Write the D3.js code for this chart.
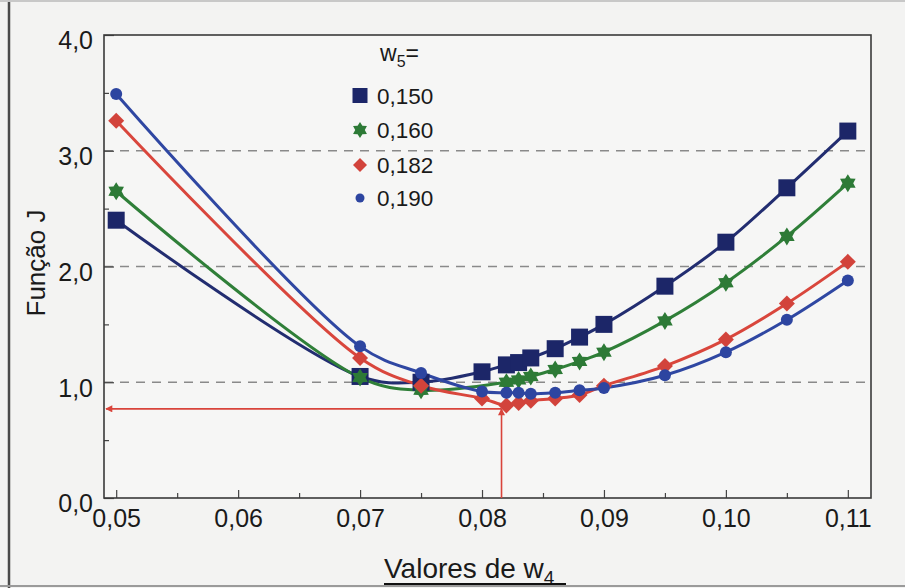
<!DOCTYPE html>
<html>
<head>
<meta charset="utf-8">
<script src="https://cdn.jsdelivr.net/npm/d3@7"></script>
<style>
  html, body { margin: 0; padding: 0; background: #f3f3f2; }
  svg { display: block; }
  text { font-family: Arial, "Liberation Sans", sans-serif; fill: #1a1a1a; }
</style>
</head>
<body>
<svg id="chart" width="905" height="588"></svg>
<script>
// Valores de w4 (abscissa) for every series
const w4 = [0.05, 0.07, 0.075, 0.08, 0.082, 0.083, 0.084, 0.086, 0.088, 0.09, 0.095, 0.10, 0.105, 0.11];

// Função J for each w5
const j150 = [2.40, 1.05, 1.00, 1.09, 1.15, 1.17, 1.21, 1.29, 1.39, 1.50, 1.83, 2.21, 2.68, 3.17];
const j160 = [2.65, 1.04, 0.93, null, 1.00, 1.02, 1.05, 1.11, 1.18, 1.26, 1.53, 1.86, 2.26, 2.72];
const j182 = [3.26, 1.21, 0.97, 0.86, 0.80, 0.82, 0.84, 0.86, 0.89, 0.97, 1.14, 1.37, 1.68, 2.04];
const j190 = [3.49, 1.31, 1.08, 0.92, 0.91, 0.91, 0.90, 0.91, 0.93, 0.95, 1.06, 1.26, 1.54, 1.88];

const seriesNames = ["0,150", "0,160", "0,182", "0,190"];

// Axis ticks
const xTicks = [0.05, 0.06, 0.07, 0.08, 0.09, 0.10, 0.11];
const xTickLabels = ["0,05", "0,06", "0,07", "0,08", "0,09", "0,10", "0,11"];
const xMinor = [0.055, 0.065, 0.075, 0.085, 0.095, 0.105];
const yTicks = [0, 1, 2, 3, 4];
const yTickLabels = ["0,0", "1,0", "2,0", "3,0", "4,0"];
const yMinor = [0.5, 1.5, 2.5, 3.5];
const gridValues = [1, 2, 3];

// Optimum marked with the red arrows
const optW4 = 0.0816;
const optJ = 0.77;

const svg = d3.select("#chart");

const pLeft = 104, pRight = 871, pTop = 35, pBottom = 498;
const x = d3.scaleLinear().domain([0.049, 0.1119]).range([pLeft, pRight]);
const y = d3.scaleLinear().domain([0, 4]).range([pBottom, pTop]);

// outer picture frame
svg.append("line").attr("x1", 9).attr("x2", 9).attr("y1", 0).attr("y2", 588)
  .attr("stroke", "#4a4a4a").attr("stroke-width", 2.5);
svg.append("line").attr("x1", 0).attr("x2", 905).attr("y1", 586).attr("y2", 586)
  .attr("stroke", "#9a9a9a").attr("stroke-width", 2);
svg.append("line").attr("x1", 0).attr("x2", 905).attr("y1", 1).attr("y2", 1)
  .attr("stroke", "#c8c8c8").attr("stroke-width", 2);

// plot area
svg.append("rect").attr("x", pLeft).attr("y", pTop)
  .attr("width", pRight - pLeft).attr("height", pBottom - pTop)
  .attr("fill", "#f6f6f5");

// dashed grid lines
svg.append("g").selectAll("line").data(gridValues).join("line")
  .attr("x1", pLeft).attr("x2", pRight)
  .attr("y1", d => y(d)).attr("y2", d => y(d))
  .attr("stroke", "#8a8a8a").attr("stroke-width", 1.4)
  .attr("stroke-dasharray", "9,7");

// axes with inward ticks
const xAxis = d3.axisBottom(x).tickValues(xTicks).tickSize(-8)
  .tickFormat((d, i) => xTickLabels[i]);
const gx = svg.append("g").attr("transform", `translate(0,${pBottom})`).call(xAxis);
gx.select(".domain").remove();
gx.selectAll(".tick line").attr("stroke", "#444").attr("stroke-width", 1.2);
gx.selectAll(".tick text").attr("font-size", 25).attr("dy", "0.95em")
  .attr("y", 5).style("font-family", "Arial, 'Liberation Sans', sans-serif").attr("fill", "#1a1a1a");
svg.append("g").attr("transform", `translate(0,${pBottom})`)
  .call(d3.axisBottom(x).tickValues(xMinor).tickSize(-5).tickFormat(""))
  .call(g => g.select(".domain").remove())
  .selectAll(".tick line").attr("stroke", "#444").attr("stroke-width", 1.2);

const yAxis = d3.axisLeft(y).tickValues(yTicks).tickSize(-10)
  .tickFormat((d, i) => yTickLabels[i]);
const gy = svg.append("g").attr("transform", `translate(${pLeft},0)`).call(yAxis);
gy.select(".domain").remove();
gy.selectAll(".tick line").attr("stroke", "#444").attr("stroke-width", 1.2);
gy.selectAll(".tick text").attr("font-size", 25).attr("x", -11).attr("dy", "0.55em")
  .style("font-family", "Arial, 'Liberation Sans', sans-serif").attr("fill", "#1a1a1a");
svg.append("g").attr("transform", `translate(${pLeft},0)`)
  .call(d3.axisLeft(y).tickValues(yMinor).tickSize(-5).tickFormat(""))
  .call(g => g.select(".domain").remove())
  .selectAll(".tick line").attr("stroke", "#444").attr("stroke-width", 1.2);

// frame
svg.append("rect").attr("x", pLeft).attr("y", pTop)
  .attr("width", pRight - pLeft).attr("height", pBottom - pTop)
  .attr("fill", "none").attr("stroke", "#3a3a3a").attr("stroke-width", 1.6);

// red arrows pointing at the optimum
const red = "#d9443b";
const defs = svg.append("defs");
defs.append("marker").attr("id", "arrow").attr("viewBox", "0 0 10 10")
  .attr("refX", 9).attr("refY", 5).attr("markerWidth", 9).attr("markerHeight", 7)
  .attr("markerUnits", "userSpaceOnUse").attr("orient", "auto")
  .append("path").attr("d", "M0,0 L10,5 L0,10 Z").attr("fill", red);
svg.append("line")
  .attr("x1", x(optW4)).attr("x2", pLeft + 2)
  .attr("y1", y(optJ)).attr("y2", y(optJ))
  .attr("stroke", red).attr("stroke-width", 1.6).attr("marker-end", "url(#arrow)");
svg.append("line")
  .attr("x1", x(optW4)).attr("x2", x(optW4))
  .attr("y1", pBottom).attr("y2", y(optJ))
  .attr("stroke", red).attr("stroke-width", 1.6).attr("marker-end", "url(#arrow)");

// series
function star6(r) {
  const pts = [];
  for (let k = 0; k < 12; k++) {
    const a = -Math.PI / 2 + k * Math.PI / 6;
    const rr = k % 2 === 0 ? r : r * 0.6;
    pts.push([rr * Math.cos(a), rr * Math.sin(a)]);
  }
  return "M" + pts.map(p => p[0].toFixed(2) + "," + p[1].toFixed(2)).join("L") + "Z";
}
const shapes = {
  square: s => `M${-s/2},${-s/2}h${s}v${s}h${-s}Z`,
  star: s => star6(s / 2),
  diamond: s => `M0,${-s/2}L${s/2},0L0,${s/2}L${-s/2},0Z`,
  circle: s => d3.symbol(d3.symbolCircle, Math.PI * (s / 2) * (s / 2))()
};

const series = [
  { name: seriesNames[0], values: j150, color: "#1c2668", line: "#222d70", shape: "square", size: 17 },
  { name: seriesNames[1], values: j160, color: "#2d7a36", line: "#2f7f38", shape: "star", size: 18 },
  { name: seriesNames[2], values: j182, color: "#d2433b", line: "#d9463c", shape: "diamond", size: 16 },
  { name: seriesNames[3], values: j190, color: "#2d45a0", line: "#2f47a2", shape: "circle", size: 12 }
];

const line = d3.line()
  .x(d => x(d[0])).y(d => y(d[1]))
  .curve(d3.curveCatmullRom.alpha(0.5));

series.forEach(s => {
  const pts = w4.map((w, i) => [w, s.values[i]]).filter(p => p[1] !== null);
  svg.append("path").datum(pts).attr("d", line)
    .attr("fill", "none").attr("stroke", s.line).attr("stroke-width", 3);
});
series.forEach(s => {
  const pts = w4.map((w, i) => [w, s.values[i]]).filter(p => p[1] !== null);
  svg.append("g").selectAll("path").data(pts).join("path")
    .attr("transform", d => `translate(${x(d[0])},${y(d[1])})`)
    .attr("d", shapes[s.shape](s.size))
    .attr("fill", s.color);
});

// legend
const lg = svg.append("g");
const title = lg.append("text").attr("x", 380).attr("y", 61).attr("font-size", 23);
title.append("tspan").text("w");
title.append("tspan").attr("font-size", 16).attr("dy", 6).text("5");
title.append("tspan").attr("dy", -6).text("=");
series.forEach((s, i) => {
  const cy = [95.5, 130, 165, 198][i];
  lg.append("path").attr("transform", `translate(360,${cy})`)
    .attr("d", shapes[s.shape](s.shape === "circle" ? 9 : s.size - 2))
    .attr("fill", s.color);
  lg.append("text").attr("x", 377).attr("y", cy + 8).attr("font-size", 22.5).text(s.name);
});

// axis titles
svg.append("text").attr("transform", "translate(45,263) rotate(-90)")
  .attr("text-anchor", "middle").attr("font-size", 26).text("Função J");
const xt = svg.append("text").attr("x", 384).attr("y", 578).attr("font-size", 28);
xt.append("tspan").text("Valores de w");
xt.append("tspan").attr("font-size", 19).attr("dy", 6).text("4");
svg.append("line").attr("x1", 384).attr("x2", 566).attr("y1", 584).attr("y2", 584)
  .attr("stroke", "#111").attr("stroke-width", 2);
</script>
</body>
</html>
